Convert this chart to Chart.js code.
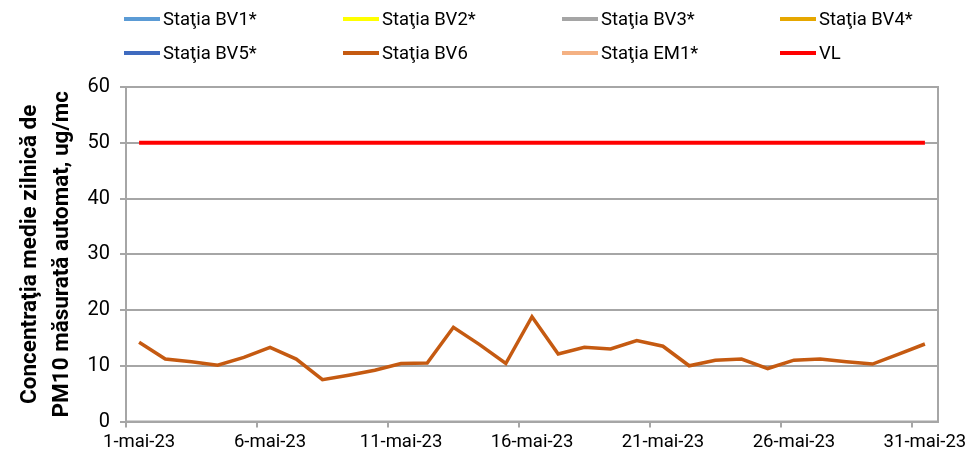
<!DOCTYPE html>
<html>
<head>
<meta charset="utf-8">
<script src="https://cdn.jsdelivr.net/npm/chart.js@4.4.1/dist/chart.umd.min.js"></script>
<style>
  body { margin: 0; background: #fff; }
  #wrap { position: relative; width: 973px; height: 457px; }
  #legend { position: absolute; left: 124px; top: 8px; display: grid;
    grid-template-columns: 219px 219px 218px 150px; row-gap: 12px;
    font-family: 'Roboto', sans-serif; font-size: 18.5px; color: #000; }
  #legend div { display: flex; align-items: center; height: 22px; white-space: nowrap; }
  #legend span.ln { display: inline-block; width: 36px; height: 4px; margin-right: 3px; }
</style>
</head>
<body>
<div id="wrap">
  <canvas id="c" width="973" height="457"></canvas>
  <div id="legend"></div>
</div>
<script>
const days = ['1-mai-23','2-mai-23','3-mai-23','4-mai-23','5-mai-23','6-mai-23','7-mai-23',
  '8-mai-23','9-mai-23','10-mai-23','11-mai-23','12-mai-23','13-mai-23','14-mai-23',
  '15-mai-23','16-mai-23','17-mai-23','18-mai-23','19-mai-23','20-mai-23','21-mai-23',
  '22-mai-23','23-mai-23','24-mai-23','25-mai-23','26-mai-23','27-mai-23','28-mai-23',
  '29-mai-23','30-mai-23','31-mai-23'];
const stationNames = ['Staţia BV1*', 'Staţia BV2*', 'Staţia BV3*', 'Staţia BV4*',
  'Staţia BV5*', 'Staţia BV6', 'Staţia EM1*', 'VL'];
const stationColors = ['#5b9bd5', '#ffff00', '#a5a5a5', '#e6a700',
  '#3f6bbf', '#c55a11', '#f4b183', '#ff0000'];
// only BV6 has data in May 2023
const bv6 = [14.2, 11.2, 10.7, 10.1, 11.5, 13.3, 11.2, 7.5, 8.3, 9.2, 10.4, 10.5, 16.9, 13.8, 10.4,
  18.8, 12.1, 13.3, 13.0, 14.5, 13.5, 10.0, 11.0, 11.2, 9.5, 11.0, 11.2, 10.7, 10.3, 12.1, 13.9];
const vl = [50, 50, 50, 50, 50, 50, 50, 50, 50, 50, 50, 50, 50, 50, 50,
  50, 50, 50, 50, 50, 50, 50, 50, 50, 50, 50, 50, 50, 50, 50, 50];
const yTicks = [0, 10, 20, 30, 40, 50, 60];
const labelEvery = 5;

const FONT = "'Roboto', sans-serif";
const GRID = '#a6a6a6';

const seriesData = { 'Staţia BV6': bv6, 'VL': vl };
const datasets = stationNames.map((name, i) => ({
  label: name,
  data: seriesData[name] || [],
  borderColor: stationColors[i],
  backgroundColor: stationColors[i],
  borderWidth: name === 'VL' ? 4 : 3.5,
  pointRadius: 0,
  tension: 0
}));

// frame around plot area (top/right borders like Excel)
const framePlugin = {
  id: 'frame',
  afterDraw(chart) {
    const { ctx, chartArea: a } = chart;
    ctx.save();
    ctx.strokeStyle = GRID;
    ctx.lineWidth = 2;
    ctx.strokeRect(a.left, a.top, a.right - a.left, a.bottom - a.top);
    ctx.restore();
  }
};

const chart = new Chart(document.getElementById('c'), {
  type: 'line',
  data: { labels: days, datasets },
  plugins: [framePlugin],
  options: {
    responsive: false,
    animation: false,
    layout: { padding: { top: 87, right: 35, bottom: 0, left: 0 } },
    plugins: { legend: { display: false }, tooltip: { enabled: false } },
    scales: {
      x: {
        offset: true,
        afterFit: s => { s.height = 35.5; },
        ticks: {
          autoSkip: false,
          maxRotation: 0,
          padding: 4,
          color: '#000',
          font: { family: FONT, size: 18.5 },
          callback: function (v, i) { return i % labelEvery === 0 ? this.getLabelForValue(v) : ''; }
        },
        grid: {
          offset: true,
          drawOnChartArea: false,
          drawTicks: true,
          tickLength: 6,
          lineWidth: 2,
          color: c => (c.index % labelEvery === 0 && c.index < days.length) ? GRID : 'rgba(0,0,0,0)'
        },
        border: { display: true, color: GRID, width: 2 }
      },
      y: {
        min: 0,
        max: 60,
        afterBuildTicks: s => { s.ticks = yTicks.map(v => ({ value: v })); },
        afterFit: s => { s.width = 126; },
        ticks: { color: '#000', padding: 10, font: { family: FONT, size: 20 } },
        grid: { color: GRID, lineWidth: 2, tickLength: 6 },
        border: { display: true, color: GRID, width: 2 },
        title: {
          display: true,
          text: ['Concentraţia medie zilnică de', 'PM10 măsurată automat, ug/mc'],
          color: '#000',
          font: { family: FONT, size: 22.5, weight: 'bold', lineHeight: 1.42 },
          padding: { top: 14, bottom: 0 }
        }
      }
    }
  }
});

// legend built from the chart datasets, laid out as Excel's 4x2 grid
const legendEl = document.getElementById('legend');
chart.data.datasets.forEach(ds => {
  const item = document.createElement('div');
  item.innerHTML = '<span class="ln" style="background:' + ds.borderColor + '"></span>' + ds.label;
  legendEl.appendChild(item);
});
</script>
</body>
</html>
